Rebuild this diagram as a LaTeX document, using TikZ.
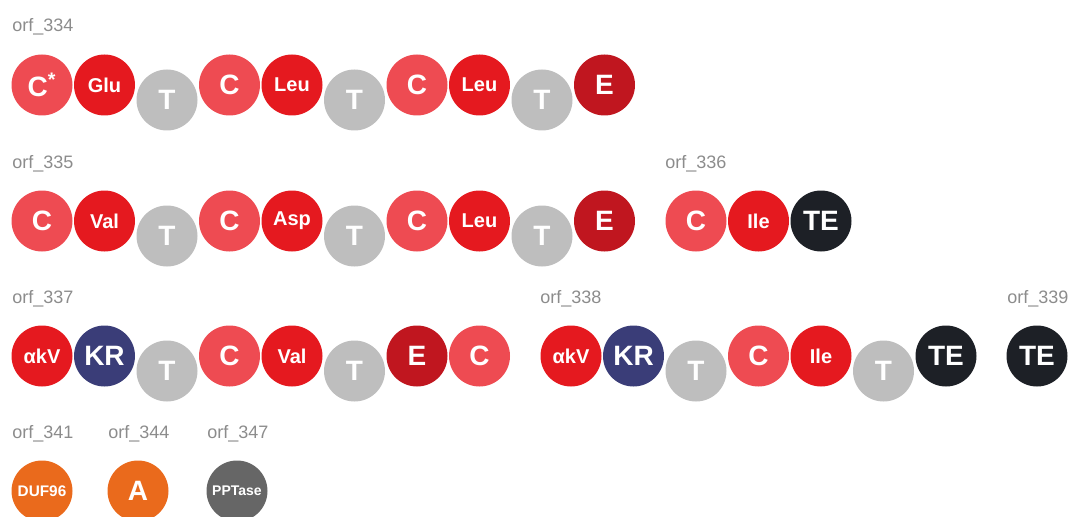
\documentclass[tikz,border=0pt]{standalone}
\usepackage{fontspec}
\setmainfont{Liberation Sans}

\definecolor{cred}{HTML}{EE4B52}
\definecolor{ared}{HTML}{E5191F}
\definecolor{ered}{HTML}{C0161F}
\definecolor{tgray}{HTML}{BEBEBE}
\definecolor{krblue}{HTML}{3A3D78}
\definecolor{teblack}{HTML}{1D2026}
\definecolor{dorange}{HTML}{EA6A1C}
\definecolor{pgray}{HTML}{666666}
\definecolor{lblgray}{HTML}{8C8C8C}

\tikzset{
    dom/.style={circle, minimum size=45.75pt, inner sep=0pt, text=white,
        font=\bfseries\fontsize{21}{21}\selectfont},
    subst/.style={font=\bfseries\fontsize{15}{15}\selectfont},
    cond/.style={dom, fill=cred},
    adeny/.style={dom, subst, fill=ared},
    thio/.style={dom, fill=tgray},
    epi/.style={dom, fill=ered},
    kred/.style={dom, fill=krblue},
    thioe/.style={dom, fill=teblack},
    duf/.style={dom, fill=dorange, font=\bfseries\fontsize{11.5}{11.5}\selectfont},
    aden/.style={dom, fill=dorange},
    ppt/.style={dom, fill=pgray, font=\bfseries\fontsize{10.5}{10.5}\selectfont},
    orflabel/.style={anchor=base west, inner sep=0pt, text=lblgray,
        font=\fontsize{13.5}{13.5}\selectfont}
}

\begin{document}
\begin{tikzpicture}[x=0.75pt, y=-0.75pt]
        \clip (0,0) rectangle (1075,517);

        % orf_334
        \node[orflabel] (l334) at (12,32) {orf\_334};
        \foreach \i/\t/\s/\d in
            {0/{C\textsuperscript{*}}/cond/0, 1/Glu/adeny/0, 2/T/thio/15, 3/C/cond/0, 4/Leu/adeny/0,
             5/T/thio/15, 6/C/cond/0, 7/Leu/adeny/0, 8/T/thio/15, 9/E/epi/0}
            \node[\s] (m334-\i) at ({42+62.5*\i},85+\d) {\t};

        % orf_335 and orf_336
        \node[orflabel] (l335) at (12,168) {orf\_335};
        \foreach \i/\t/\s/\d in
            {0/C/cond/0, 1/Val/adeny/0, 2/T/thio/15, 3/C/cond/0, 4/Asp/adeny/0,
             5/T/thio/15, 6/C/cond/0, 7/Leu/adeny/0, 8/T/thio/15, 9/E/epi/0}
            \node[\s] (m335-\i) at ({42+62.5*\i},221+\d) {\t};
        \node[orflabel] (l336) at (665,168) {orf\_336};
        \foreach \i/\t/\s in {0/C/cond, 1/Ile/adeny, 2/TE/thioe}
            \node[\s] (m336-\i) at ({696+62.5*\i},221) {\t};

        % orf_337, orf_338 and orf_339
        \node[orflabel] (l337) at (12,303) {orf\_337};
        \foreach \i/\t/\s/\d in
            {0/αkV/adeny/0, 1/KR/kred/0, 2/T/thio/15, 3/C/cond/0, 4/Val/adeny/0,
             5/T/thio/15, 6/E/epi/0, 7/C/cond/0}
            \node[\s] (m337-\i) at ({42+62.5*\i},356+\d) {\t};
        \node[orflabel] (l338) at (540,303) {orf\_338};
        \foreach \i/\t/\s/\d in
            {0/αkV/adeny/0, 1/KR/kred/0, 2/T/thio/15, 3/C/cond/0, 4/Ile/adeny/0,
             5/T/thio/15, 6/TE/thioe/0}
            \node[\s] (m338-\i) at ({571+62.5*\i},356+\d) {\t};
        \node[orflabel] (l339) at (1007,303) {orf\_339};
        \node[thioe] (m339-0) at (1037,356) {TE};

        % single domains
        \foreach \x/\n/\t/\s in {12/341/DUF96/duf, 108/344/A/aden, 207/347/PPTase/ppt}
            {
                \node[orflabel] (l\n) at (\x,438) {orf\_\n};
                \node[\s] (m\n-0) at (\x+30,491) {\t};
            }

    \end{tikzpicture}
\end{document}
